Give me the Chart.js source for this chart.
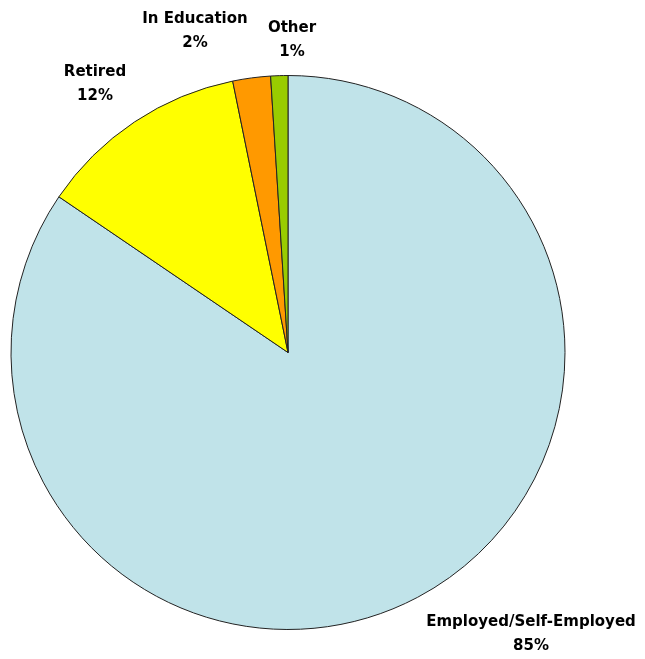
<!DOCTYPE html>
<html>
<head>
<meta charset="utf-8">
<script src="https://cdn.jsdelivr.net/npm/chart.js@4/dist/chart.umd.min.js"></script>
<style>
  html, body { margin: 0; padding: 0; background: #fff; }
  #wrap { width: 645px; height: 659px; }
</style>
</head>
<body>
<div id="wrap"><canvas id="myChart" width="645" height="659"></canvas></div>
<script>
// slices go clockwise from 12 o'clock
var categories = ['Employed/Self-Employed', 'Retired', 'In Education', 'Other'];
var shares = [84.5, 12.3, 2.2, 1.0];
var shareLabels = ['85%', '12%', '2%', '1%'];
var sliceColors = ['#C0E3E9', '#FFFF00', '#FF9900', '#99CC00'];

// where Excel put each label (canvas px, centre of first line)
var labelSpots = [[531, 622], [95, 72], [195, 19], [292, 28]];

var outsideLabels = {
  id: 'outsideLabels',
  afterDatasetsDraw: function(chart) {
    var ctx = chart.ctx;
    ctx.save();
    ctx.font = 'bold 15px "DejaVu Sans", sans-serif';
    ctx.fillStyle = '#000';
    ctx.textAlign = 'center';
    ctx.textBaseline = 'middle';
    chart.data.labels.forEach(function(name, i) {
      var p = labelSpots[i];
      ctx.fillText(name, p[0], p[1]);
      ctx.fillText(shareLabels[i], p[0], p[1] + 24);
    });
    ctx.restore();
  }
};

var ctx = document.getElementById('myChart');
var myChart = new Chart(ctx, {
  type: 'pie',
  data: {
    labels: categories,
    datasets: [{
      data: shares,
      backgroundColor: sliceColors,
      borderColor: '#222',
      borderWidth: 1
    }]
  },
  options: {
    responsive: false,
    animation: false,
    layout: { padding: { left: 10, right: 79, top: 75, bottom: 29 } },
    plugins: {
      legend: { display: false },
      tooltip: { enabled: false }
    }
  },
  plugins: [outsideLabels]
});
</script>
</body>
</html>
